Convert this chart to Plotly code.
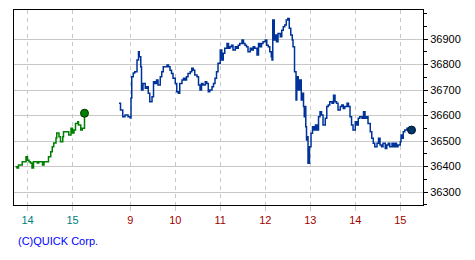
import plotly.graph_objects as go

# ---- data ----
prev_times = ["13:44","13:46","13:48","13:53","13:58","14:00","14:02","14:04","14:06","14:08",
              "14:13","14:15","14:20","14:22","14:27","14:28","14:31","14:33","14:35","14:38",
              "14:39","14:42","14:44","14:47","14:48","14:53","14:55","14:58","15:00","15:02",
              "15:04","15:07","15:08","15:11","15:13","15:15","15:16"]
prev_prices = [36399,36394,36406,36419,36438,36425,36419,36414,36394,36419,
               36414,36419,36406,36419,36419,36438,36458,36478,36492,36512,
               36531,36517,36497,36517,36536,36536,36524,36550,36531,36543,
               36569,36576,36563,36543,36550,36550,36609]

today_times = ["8:45","8:47","8:50","8:53","8:57","9:00","9:01","9:02","9:04","9:06","9:09","9:11",
               "9:12","9:14","9:15","9:17","9:20","9:22","9:24","9:26","9:29","9:31","9:33","9:35",
               "9:37","9:40","9:42","9:44","9:49","9:51","9:53","9:55","9:57","10:00","10:02","10:04",
               "10:06","10:09","10:11","10:13","10:15","10:17","10:20","10:22","10:24","10:26","10:29",
               "10:31","10:33","10:35","10:37","10:40","10:42","10:44","10:46","10:49","10:51","10:53",
               "10:55","10:57","11:00","11:02","11:04","11:06","11:09","11:11","11:13","11:15","11:17",
               "11:20","11:22","11:24","11:26","11:29","11:31","11:33","11:35","11:37","11:40","11:42",
               "11:44","11:46","11:49","11:51","11:53","11:55","11:57","12:00","12:02","12:04","12:06",
               "12:08","12:09","12:10","12:12","12:14","12:15","12:17","12:20","12:22","12:24","12:26",
               "12:28","12:30","12:32","12:34","12:36","12:37","12:39","12:41","12:42","12:43","12:44",
               "12:46","12:48","12:49","12:51","12:52","12:53","12:54","12:55","12:56","12:57","12:59",
               "13:01","13:03","13:05","13:07","13:09","13:11","13:13","13:15","13:17","13:20","13:22",
               "13:24","13:26","13:29","13:31","13:33","13:35","13:37","13:40","13:42","13:44","13:46",
               "13:49","13:51","13:53","13:55","13:57","14:00","14:02","14:04","14:06","14:09","14:11",
               "14:13","14:15","14:17","14:20","14:22","14:24","14:26","14:29","14:31","14:33","14:35",
               "14:37","14:40","14:42","14:44","14:46","14:49","14:51","14:53","14:55","14:57","15:00",
               "15:01","15:03","15:04","15:06","15:09","15:11","15:13","15:15"]
today_prices = [36648,36622,36595,36602,36595,36590,36669,36752,36767,36772,36818,36850,
                36831,36791,36700,36726,36707,36713,36687,36654,36674,36733,36726,36739,
                36720,36752,36772,36791,36798,36791,36778,36765,36746,36726,36693,36687,
                36726,36739,36746,36739,36752,36765,36772,36785,36778,36759,36752,
                36720,36700,36726,36720,36733,36726,36693,36700,36713,36726,36746,
                36772,36805,36857,36818,36844,36864,36883,36864,36870,36876,36857,
                36870,36864,36876,36883,36896,36883,36876,36870,36850,36864,36857,
                36870,36864,36837,36883,36870,36883,36889,36896,36876,36870,36850,
                36831,36818,36975,36896,36916,36889,36922,36909,36935,36948,36955,
                36975,36981,36942,36916,36896,36870,36772,36661,36713,36752,36700,
                36739,36661,36687,36635,36595,36635,36556,36504,36517,36413,36478,
                36530,36556,36543,36563,36543,36595,36615,36602,36563,36589,36635,
                36641,36654,36648,36680,36654,36648,36622,36635,36641,36628,36635,
                36648,36635,36595,36563,36543,36576,36563,36589,36595,36589,36615,
                36589,36595,36569,36536,36511,36491,36478,36491,36511,36484,36478,
                36491,36471,36484,36491,36478,36491,36478,36491,36478,36484,36497,
                36524,36511,36536,36543,36550,36543,36550,36543]

prev_tick_labels = ["14", "15"]
today_tick_labels = ["9", "10", "11", "12", "13", "14", "15"]
y_ticks = [36300, 36400, 36500, 36600, 36700, 36800, 36900]

PREV_OFFSET = 437  # minutes shift to place previous session left of today's


def to_min(t):
    h, m = t.split(":")
    return int(h) * 60 + int(m)


prev_x = [to_min(t) - PREV_OFFSET for t in prev_times]
today_x = [to_min(t) for t in today_times]

tickvals = [int(h) * 60 - PREV_OFFSET for h in prev_tick_labels] + [int(h) * 60 for h in today_tick_labels]
ticktext = ([f"<span style='color:#008080'>{h}</span>" for h in prev_tick_labels] +
            [f"<span style='color:#a00000'>{h}</span>" for h in today_tick_labels])

GREEN = "#008000"
BLUE = "#003399"

fig = go.Figure()
fig.add_trace(go.Scatter(x=prev_x, y=prev_prices, mode="lines", line=dict(color=GREEN, width=1.5, shape="hv"),
                         hoverinfo="skip"))
fig.add_trace(go.Scatter(x=[prev_x[-1]], y=[prev_prices[-1]], mode="markers",
                         marker=dict(color=GREEN, size=8, line=dict(color="#003300", width=1)), hoverinfo="skip"))
fig.add_trace(go.Scatter(x=today_x, y=today_prices, mode="lines", line=dict(color=BLUE, width=1.5, shape="hv"),
                         hoverinfo="skip"))
fig.add_trace(go.Scatter(x=[today_x[-1]], y=[today_prices[-1]], mode="markers",
                         marker=dict(color="#003366", size=8, line=dict(color="#001a33", width=1)), hoverinfo="skip"))

fig.update_layout(
    width=475, height=260,
    margin=dict(l=14, r=52, t=10, b=55),
    paper_bgcolor="white", plot_bgcolor="white",
    showlegend=False,
    font=dict(family="Liberation Sans, Arial, sans-serif", size=11, color="black"),
    xaxis=dict(
        range=[385, 930.3],
        tickvals=tickvals, ticktext=ticktext,
        showgrid=True, gridcolor="#c8c8c8", gridwidth=1, griddash="4px,4px",
        ticks="outside", ticklen=5, tickcolor="#c8c8c8",
        showline=True, linecolor="black", linewidth=1, mirror=True,
        zeroline=False, fixedrange=True,
        tickfont=dict(size=11),
    ),
    yaxis=dict(
        side="right",
        range=[36249, 37014],
        tickvals=y_ticks, tickformat="d",
        showgrid=True, gridcolor="#c8c8c8", gridwidth=1,
        ticks="outside", ticklen=4, tickcolor="black",
        minor=dict(ticks="outside", ticklen=3, tickcolor="black", dtick=50, tick0=36250, showgrid=False),
        showline=True, linecolor="black", linewidth=1, mirror=True,
        zeroline=False, fixedrange=True,
        tickfont=dict(size=11, color="black"),
    ),
    annotations=[dict(text="(C)QUICK Corp.", xref="paper", yref="paper", x=0.005, y=-0.185,
                      xanchor="left", yanchor="middle", showarrow=False,
                      font=dict(color="#0000ff", size=11))],
)

fig.write_html("out.html")
